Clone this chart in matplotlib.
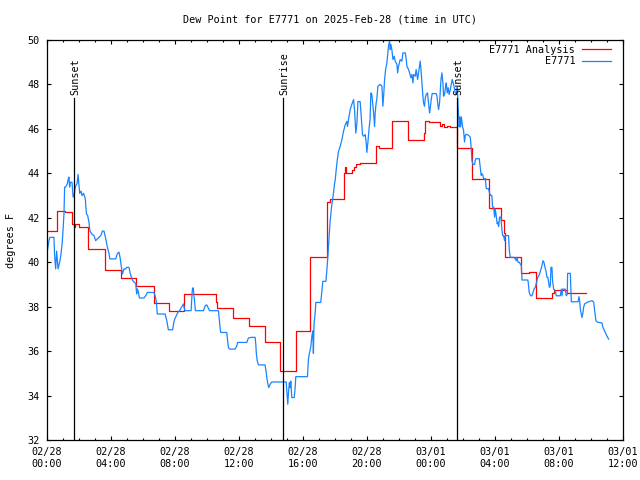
import matplotlib
matplotlib.use("Agg")
import matplotlib.pyplot as plt
from matplotlib.ticker import MultipleLocator, FixedLocator
import datetime as dt

# ---- data (hours since 2025-02-28 00:00 UTC) ----
obs_t = [0.0, 0.14, 0.2, 0.45, 0.5, 0.56, 0.62, 0.71, 0.81, 0.9, 0.98, 1.08, 1.12, 1.18, 1.29, 1.33, 1.39, 1.43,
         1.48, 1.58, 1.65, 1.73, 1.79, 1.9, 1.96, 2.0, 2.06, 2.15, 2.2, 2.3, 2.41, 2.48, 2.56, 2.64, 2.7, 2.84,
         2.95, 3.06, 3.16, 3.27, 3.38, 3.48, 3.58, 3.69, 3.79, 3.9, 3.94, 4.31, 4.42, 4.52, 4.58, 4.67, 4.73,
         4.83, 4.94, 5.0, 5.14, 5.2, 5.29, 5.35, 5.46, 5.56, 5.62, 5.66, 5.73, 5.79, 6.08, 6.19, 6.29, 6.7, 6.8,
         6.85, 6.91, 7.4, 7.5, 7.6, 7.87, 7.94, 8.0, 8.1, 8.2, 8.33, 8.44, 8.54, 8.58, 8.64, 9.02, 9.06, 9.1,
         9.15, 9.19, 9.23, 9.29, 9.79, 9.9, 10.0, 10.1, 10.17, 10.73, 10.77, 10.83, 10.87, 11.25, 11.29, 11.35,
         11.42, 11.77, 11.88, 11.92, 12.5, 12.6, 12.8, 13.02, 13.06, 13.1, 13.15, 13.23, 13.64, 13.7, 13.75,
         13.81, 13.87, 13.96, 14.06, 14.96, 15.0, 15.06, 15.1, 15.16, 15.2, 15.25, 15.31, 15.46, 15.52, 15.56,
         16.29, 16.35, 16.42, 16.5, 16.56, 16.62, 16.66, 16.7, 16.77, 16.81, 17.12, 17.19, 17.25, 17.44, 17.5,
         17.56, 17.65, 17.71, 17.79, 17.85, 17.92, 17.98, 18.02, 18.08, 18.15, 18.22, 18.33, 18.44, 18.54,
         18.65, 18.75, 18.79, 18.85, 18.96, 19.06, 19.17, 19.23, 19.31, 19.38, 19.44, 19.58, 19.65, 19.73,
         19.79, 19.9, 19.96, 20.0, 20.06, 20.15, 20.2, 20.25, 20.31, 20.35, 20.42, 20.48, 20.52, 20.58, 20.62,
         20.69, 20.83, 20.94, 21.0, 21.06, 21.1, 21.17, 21.25, 21.31, 21.35, 21.42, 21.46, 21.5, 21.56, 21.63,
         21.71, 21.77, 21.88, 21.92, 21.98, 22.08, 22.19, 22.25, 22.4, 22.46, 22.5, 22.6, 22.67, 22.75, 22.81,
         22.88, 22.92, 23.02, 23.08, 23.17, 23.23, 23.33, 23.38, 23.44, 23.5, 23.54, 23.6, 23.65, 23.71, 23.79,
         23.85, 23.92, 23.96, 24.02, 24.08, 24.33, 24.38, 24.42, 24.48, 24.54, 24.58, 24.63, 24.69, 24.75,
         24.79, 24.85, 24.92, 24.96, 25.02, 25.08, 25.14, 25.21, 25.27, 25.33, 25.42, 25.52, 25.6, 25.65,
         25.69, 25.73, 25.77, 25.81, 25.85, 25.9, 25.98, 26.04, 26.1, 26.15, 26.21, 26.35, 26.46, 26.52, 26.56,
         26.63, 26.73, 26.77, 26.81, 27.02, 27.08, 27.14, 27.2, 27.25, 27.29, 27.4, 27.46, 27.6, 27.67, 27.75,
         27.81, 27.85, 27.92, 27.98, 28.02, 28.08, 28.14, 28.19, 28.23, 28.29, 28.37, 28.44, 28.48, 28.54,
         28.6, 28.64, 28.85, 28.9, 28.96, 29.17, 29.27, 29.33, 29.38, 29.44, 29.52, 29.58, 29.65, 29.69, 30.06,
         30.1, 30.14, 30.23, 30.31, 30.38, 30.44, 30.52, 30.6, 30.67, 30.75, 30.85, 30.94, 31.0, 31.06, 31.15,
         31.19, 31.25, 31.31, 31.4, 31.46, 31.5, 31.56, 31.6, 31.67, 31.77, 31.83, 32.08, 32.15, 32.19, 32.23,
         32.39, 32.46, 32.52, 32.54, 32.71, 32.77, 33.19, 33.25, 33.29, 33.35, 33.44, 33.5, 33.54, 33.6, 33.75,
         33.85, 34.06, 34.17, 34.23, 34.31, 34.4, 34.69, 34.73, 34.79, 34.89, 34.98, 35.1]
obs_v = [40.33, 40.97, 41.12, 41.12, 40.22, 39.7, 40.5, 39.7, 40.0, 40.4, 40.97, 42.18, 43.38, 43.38, 43.53, 43.7,
         43.83, 43.38, 43.6, 43.6, 42.93, 43.1, 43.4, 43.55, 43.95, 43.6, 43.1, 43.2, 43.0, 43.1, 42.86, 42.18,
         42.1, 41.8, 41.4, 41.25, 41.2, 40.97, 41.05, 41.12, 41.2, 41.4, 41.4, 41.05, 40.67, 40.37, 40.15, 40.15,
         40.4, 40.45, 40.22, 39.77, 39.47, 39.7, 39.7, 39.77, 39.77, 39.55, 39.32, 39.2, 39.1, 39.05, 38.57, 38.8,
         38.65, 38.39, 38.39, 38.5, 38.64, 38.64, 38.42, 38.19, 37.67, 37.67, 37.37, 36.96, 36.96, 37.3, 37.45,
         37.6, 37.75, 37.85, 38.0, 38.12, 37.97, 37.82, 37.82, 38.3, 38.8, 38.85, 38.6, 38.3, 37.82, 37.82, 38.04,
         38.08, 37.93, 37.82, 37.82, 37.51, 37.06, 36.84, 36.84, 36.54, 36.17, 36.09, 36.09, 36.24, 36.39, 36.39,
         36.59, 36.62, 36.62, 36.32, 35.86, 35.56, 35.38, 35.38, 35.1, 34.81, 34.54, 34.36, 34.51, 34.61, 34.61,
         34.2, 33.61, 34.1, 34.58, 34.35, 34.65, 33.91, 33.91, 34.36, 34.85, 34.85, 35.64, 35.94, 36.2, 36.65,
         36.91, 35.9, 37.22, 37.7, 38.19, 38.19, 38.7, 39.14, 39.14, 39.63, 40.22, 41.27, 41.87, 42.47, 42.78,
         43.15, 43.53, 43.68, 44.13, 44.58, 44.96, 45.21, 45.51, 45.89, 46.19, 46.34, 46.11, 46.41, 46.87, 47.1,
         47.32, 46.87, 45.81, 46.26, 47.23, 47.23, 46.56, 45.74, 45.67, 45.74, 45.36, 44.94, 45.36, 46.11, 46.41,
         47.62, 47.55, 47.25, 46.72, 46.11, 46.72, 47.17, 47.32, 47.92, 48.0, 47.92, 47.02, 47.62, 48.15, 48.67,
         48.97, 49.42, 49.72, 49.95, 49.57, 49.8, 49.57, 49.12, 49.27, 49.05, 48.9, 48.52, 48.82, 49.12, 49.05,
         49.42, 49.42, 49.12, 48.82, 48.67, 48.52, 48.3, 48.45, 48.07, 48.45, 48.37, 48.67, 48.22, 48.52, 49.05,
         48.67, 48.07, 47.47, 47.17, 47.02, 47.4, 47.55, 47.62, 47.17, 46.72, 46.94, 47.32, 47.59, 47.59, 47.47,
         47.17, 46.87, 47.17, 47.62, 48.22, 48.52, 48.07, 47.47, 47.55, 47.92, 48.07, 47.62, 47.85, 47.55, 47.77,
         48.0, 48.22, 48.0, 47.62, 47.55, 47.89, 47.14, 46.6, 46.09, 46.54, 46.09, 46.54, 46.09, 45.94, 45.41,
         45.71, 45.76, 45.71, 45.63, 45.11, 44.58, 44.4, 44.4, 44.58, 44.66, 44.66, 44.28, 43.91, 43.98, 43.91,
         43.76, 43.76, 43.31, 43.31, 43.09, 43.0, 43.0, 42.48, 42.48, 42.03, 42.4, 42.1, 41.73, 41.8, 41.61,
         42.03, 42.03, 41.43, 41.2, 41.2, 40.97, 41.2, 41.2, 40.52, 40.22, 40.22, 40.15, 40.07, 40.22, 40.0, 40.0,
         39.92, 39.85, 39.2, 39.2, 38.95, 38.64, 38.49, 38.49, 38.64, 38.79, 38.87, 39.09, 39.32, 39.4, 39.62,
         39.85, 40.07, 40.0, 39.7, 39.62, 39.32, 39.32, 38.87, 38.95, 39.77, 39.77, 39.17, 38.79, 38.72, 38.49,
         38.49, 38.79, 38.49, 38.79, 38.79, 38.49, 38.57, 39.5, 39.5, 38.22, 38.22, 38.45, 38.27, 37.82, 37.51,
         37.74, 37.97, 38.12, 38.19, 38.22, 38.27, 38.2, 37.82, 37.37, 37.3, 37.27, 37.1, 37.0, 36.84, 36.7,
         36.54]

ana_t = [0.0, 0.62, 1.12, 1.56, 1.7, 1.75, 2.02, 2.58, 3.65, 4.64, 5.58, 6.69, 7.65, 8.57, 10.55, 10.62, 11.66,
         12.63, 13.63, 14.55, 15.6, 16.47, 17.52, 17.7, 18.6, 18.65, 18.72, 19.06, 19.2, 19.35, 19.6, 20.6,
         20.75, 21.55, 22.58, 23.55, 23.65, 23.9, 24.55, 24.7, 24.8, 25.0, 25.2, 25.6, 26.55, 27.65, 28.4,
         28.55, 28.6, 29.6, 30.1, 30.58, 31.56, 31.7, 32.5, 33.67]
ana_v = [41.4, 42.3, 42.25, 41.73, 41.58, 41.73, 41.58, 40.6, 39.65, 39.29, 38.95, 38.16, 37.82, 38.57, 38.19,
         37.94, 37.51, 37.13, 36.43, 35.11, 36.91, 40.25, 42.7, 42.86, 44.01, 44.28, 44.01, 44.15, 44.3, 44.4,
         44.46, 45.21, 45.15, 46.37, 45.52, 45.8, 46.34, 46.3, 46.15, 46.2, 46.1, 46.15, 46.1, 45.15, 43.76,
         42.43, 41.9, 41.3, 40.25, 39.5, 39.54, 38.39, 38.6, 38.76, 38.61, 38.61]

sun_t = [1.72, 14.77, 25.66]
sun_labels = ["Sunset", "Sunrise", "Sunset"]

tick_hours = list(range(0, 37, 4))
start = dt.datetime(2025, 2, 28, 0, 0)
tick_labels = [(start + dt.timedelta(hours=h)).strftime("%m/%d\n%H:%M") for h in tick_hours]

# ---- figure ----
FONT = "DejaVu Sans Mono"
FS = 7.3
plt.rcParams['font.family'] = [FONT]
fig = plt.figure(figsize=(6.4, 4.8), dpi=100)
ax = fig.add_axes([46.7 / 640, 40 / 480, (623 - 46.7) / 640, 400 / 480])

ax.plot(ana_t, ana_v, drawstyle='steps-post', color='#ff0000', lw=0.9, label='E7771 Analysis')
ax.plot(obs_t, obs_v, color='#1a84ff', lw=0.9, label='E7771')

for t, lab in zip(sun_t, sun_labels):
    ax.plot([t, t], [0, 0.855], color='black', lw=0.9, transform=ax.get_xaxis_transform())
    ax.text(t + 0.08, 0.862, lab, rotation=90, ha='center', va='bottom', fontsize=FS,
            transform=ax.get_xaxis_transform())

ax.set_xlim(0, 36)
ax.set_ylim(32, 50)
ax.xaxis.set_major_locator(FixedLocator(tick_hours))
ax.set_xticklabels(tick_labels)
ax.xaxis.set_minor_locator(MultipleLocator(1))
ax.yaxis.set_major_locator(MultipleLocator(2))
ax.tick_params(which='both', direction='in', top=True, right=True, labelsize=FS, width=0.8)
ax.tick_params(which='major', length=3.2, pad=5)
ax.tick_params(which='minor', length=1.6)
ax.tick_params(axis='y', pad=5)
for s in ax.spines.values():
    s.set_linewidth(0.9)

ax.set_ylabel('degrees F', fontsize=FS, labelpad=8)
fig.text(0.516, 0.96, 'Dew Point for E7771 on 2025-Feb-28 (time in UTC)', ha='center', va='center', fontsize=FS)

leg = ax.legend(loc='upper right', bbox_to_anchor=(0.99, 1.005), frameon=False, markerfirst=False,
                fontsize=FS, handlelength=2.8, handletextpad=0.7, labelspacing=0.15, borderaxespad=0.25)

fig.savefig('out.png', dpi=100)
